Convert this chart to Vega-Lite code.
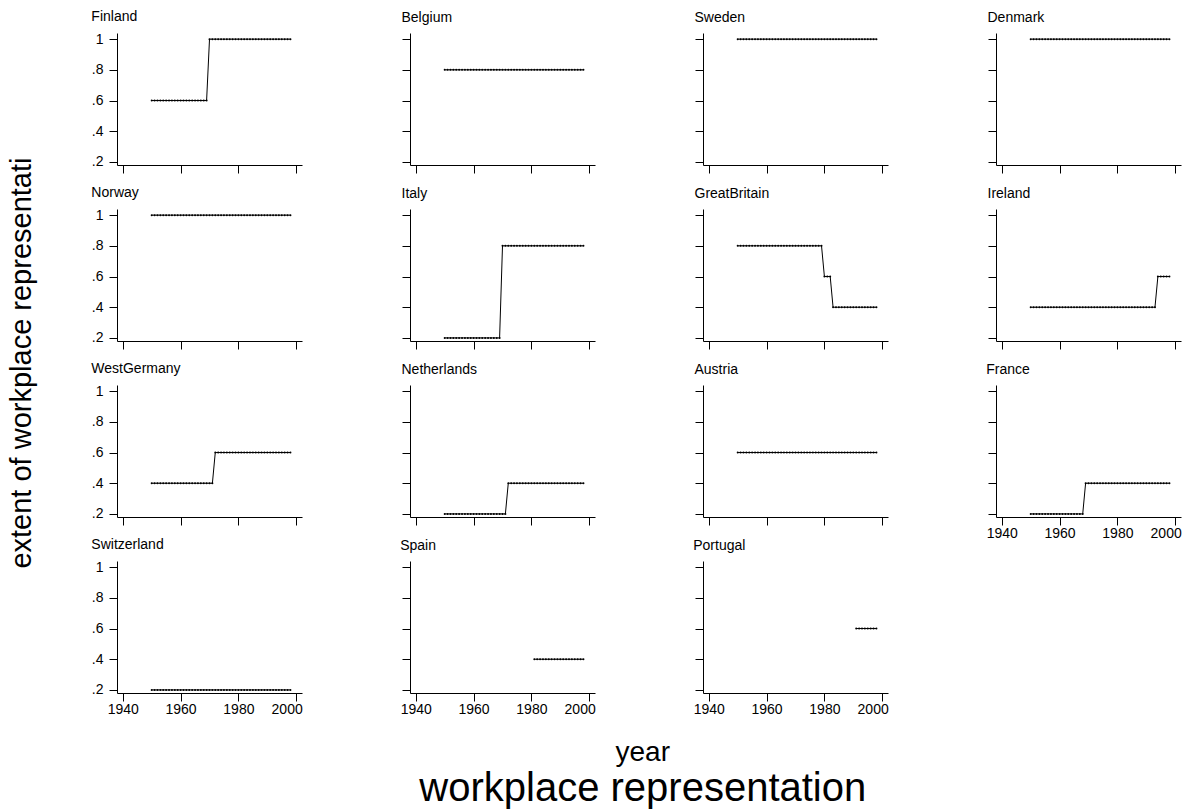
{
  "$schema": "https://vega.github.io/schema/vega-lite/v6.json",
  "padding": {"left": 8, "top": 10, "right": 5, "bottom": 5},
  "title": {"text": "year", "subtitle": "workplace representation", "orient": "bottom", "anchor": "middle", "fontSize": 28, "subtitleFontSize": 40, "fontWeight": "normal", "color": "#000", "subtitleColor": "#000", "font": "Liberation Sans", "subtitleFont": "Liberation Sans", "offset": 23, "subtitlePadding": 2, "dx": 48},
  "data": {"values": [
    {"year":1950,"Finland":0.6,"Belgium":0.8,"Sweden":1,"Denmark":1,"Norway":1,"Italy":0.2,"GreatBritain":0.8,"Ireland":0.4,"WestGermany":0.4,"Netherlands":0.2,"Austria":0.6,"France":0.2,"Switzerland":0.2},
    {"year":1951,"Finland":0.6,"Belgium":0.8,"Sweden":1,"Denmark":1,"Norway":1,"Italy":0.2,"GreatBritain":0.8,"Ireland":0.4,"WestGermany":0.4,"Netherlands":0.2,"Austria":0.6,"France":0.2,"Switzerland":0.2},
    {"year":1952,"Finland":0.6,"Belgium":0.8,"Sweden":1,"Denmark":1,"Norway":1,"Italy":0.2,"GreatBritain":0.8,"Ireland":0.4,"WestGermany":0.4,"Netherlands":0.2,"Austria":0.6,"France":0.2,"Switzerland":0.2},
    {"year":1953,"Finland":0.6,"Belgium":0.8,"Sweden":1,"Denmark":1,"Norway":1,"Italy":0.2,"GreatBritain":0.8,"Ireland":0.4,"WestGermany":0.4,"Netherlands":0.2,"Austria":0.6,"France":0.2,"Switzerland":0.2},
    {"year":1954,"Finland":0.6,"Belgium":0.8,"Sweden":1,"Denmark":1,"Norway":1,"Italy":0.2,"GreatBritain":0.8,"Ireland":0.4,"WestGermany":0.4,"Netherlands":0.2,"Austria":0.6,"France":0.2,"Switzerland":0.2},
    {"year":1955,"Finland":0.6,"Belgium":0.8,"Sweden":1,"Denmark":1,"Norway":1,"Italy":0.2,"GreatBritain":0.8,"Ireland":0.4,"WestGermany":0.4,"Netherlands":0.2,"Austria":0.6,"France":0.2,"Switzerland":0.2},
    {"year":1956,"Finland":0.6,"Belgium":0.8,"Sweden":1,"Denmark":1,"Norway":1,"Italy":0.2,"GreatBritain":0.8,"Ireland":0.4,"WestGermany":0.4,"Netherlands":0.2,"Austria":0.6,"France":0.2,"Switzerland":0.2},
    {"year":1957,"Finland":0.6,"Belgium":0.8,"Sweden":1,"Denmark":1,"Norway":1,"Italy":0.2,"GreatBritain":0.8,"Ireland":0.4,"WestGermany":0.4,"Netherlands":0.2,"Austria":0.6,"France":0.2,"Switzerland":0.2},
    {"year":1958,"Finland":0.6,"Belgium":0.8,"Sweden":1,"Denmark":1,"Norway":1,"Italy":0.2,"GreatBritain":0.8,"Ireland":0.4,"WestGermany":0.4,"Netherlands":0.2,"Austria":0.6,"France":0.2,"Switzerland":0.2},
    {"year":1959,"Finland":0.6,"Belgium":0.8,"Sweden":1,"Denmark":1,"Norway":1,"Italy":0.2,"GreatBritain":0.8,"Ireland":0.4,"WestGermany":0.4,"Netherlands":0.2,"Austria":0.6,"France":0.2,"Switzerland":0.2},
    {"year":1960,"Finland":0.6,"Belgium":0.8,"Sweden":1,"Denmark":1,"Norway":1,"Italy":0.2,"GreatBritain":0.8,"Ireland":0.4,"WestGermany":0.4,"Netherlands":0.2,"Austria":0.6,"France":0.2,"Switzerland":0.2},
    {"year":1961,"Finland":0.6,"Belgium":0.8,"Sweden":1,"Denmark":1,"Norway":1,"Italy":0.2,"GreatBritain":0.8,"Ireland":0.4,"WestGermany":0.4,"Netherlands":0.2,"Austria":0.6,"France":0.2,"Switzerland":0.2},
    {"year":1962,"Finland":0.6,"Belgium":0.8,"Sweden":1,"Denmark":1,"Norway":1,"Italy":0.2,"GreatBritain":0.8,"Ireland":0.4,"WestGermany":0.4,"Netherlands":0.2,"Austria":0.6,"France":0.2,"Switzerland":0.2},
    {"year":1963,"Finland":0.6,"Belgium":0.8,"Sweden":1,"Denmark":1,"Norway":1,"Italy":0.2,"GreatBritain":0.8,"Ireland":0.4,"WestGermany":0.4,"Netherlands":0.2,"Austria":0.6,"France":0.2,"Switzerland":0.2},
    {"year":1964,"Finland":0.6,"Belgium":0.8,"Sweden":1,"Denmark":1,"Norway":1,"Italy":0.2,"GreatBritain":0.8,"Ireland":0.4,"WestGermany":0.4,"Netherlands":0.2,"Austria":0.6,"France":0.2,"Switzerland":0.2},
    {"year":1965,"Finland":0.6,"Belgium":0.8,"Sweden":1,"Denmark":1,"Norway":1,"Italy":0.2,"GreatBritain":0.8,"Ireland":0.4,"WestGermany":0.4,"Netherlands":0.2,"Austria":0.6,"France":0.2,"Switzerland":0.2},
    {"year":1966,"Finland":0.6,"Belgium":0.8,"Sweden":1,"Denmark":1,"Norway":1,"Italy":0.2,"GreatBritain":0.8,"Ireland":0.4,"WestGermany":0.4,"Netherlands":0.2,"Austria":0.6,"France":0.2,"Switzerland":0.2},
    {"year":1967,"Finland":0.6,"Belgium":0.8,"Sweden":1,"Denmark":1,"Norway":1,"Italy":0.2,"GreatBritain":0.8,"Ireland":0.4,"WestGermany":0.4,"Netherlands":0.2,"Austria":0.6,"France":0.2,"Switzerland":0.2},
    {"year":1968,"Finland":0.6,"Belgium":0.8,"Sweden":1,"Denmark":1,"Norway":1,"Italy":0.2,"GreatBritain":0.8,"Ireland":0.4,"WestGermany":0.4,"Netherlands":0.2,"Austria":0.6,"France":0.2,"Switzerland":0.2},
    {"year":1969,"Finland":0.6,"Belgium":0.8,"Sweden":1,"Denmark":1,"Norway":1,"Italy":0.2,"GreatBritain":0.8,"Ireland":0.4,"WestGermany":0.4,"Netherlands":0.2,"Austria":0.6,"France":0.4,"Switzerland":0.2},
    {"year":1970,"Finland":1,"Belgium":0.8,"Sweden":1,"Denmark":1,"Norway":1,"Italy":0.8,"GreatBritain":0.8,"Ireland":0.4,"WestGermany":0.4,"Netherlands":0.2,"Austria":0.6,"France":0.4,"Switzerland":0.2},
    {"year":1971,"Finland":1,"Belgium":0.8,"Sweden":1,"Denmark":1,"Norway":1,"Italy":0.8,"GreatBritain":0.8,"Ireland":0.4,"WestGermany":0.4,"Netherlands":0.2,"Austria":0.6,"France":0.4,"Switzerland":0.2},
    {"year":1972,"Finland":1,"Belgium":0.8,"Sweden":1,"Denmark":1,"Norway":1,"Italy":0.8,"GreatBritain":0.8,"Ireland":0.4,"WestGermany":0.6,"Netherlands":0.4,"Austria":0.6,"France":0.4,"Switzerland":0.2},
    {"year":1973,"Finland":1,"Belgium":0.8,"Sweden":1,"Denmark":1,"Norway":1,"Italy":0.8,"GreatBritain":0.8,"Ireland":0.4,"WestGermany":0.6,"Netherlands":0.4,"Austria":0.6,"France":0.4,"Switzerland":0.2},
    {"year":1974,"Finland":1,"Belgium":0.8,"Sweden":1,"Denmark":1,"Norway":1,"Italy":0.8,"GreatBritain":0.8,"Ireland":0.4,"WestGermany":0.6,"Netherlands":0.4,"Austria":0.6,"France":0.4,"Switzerland":0.2},
    {"year":1975,"Finland":1,"Belgium":0.8,"Sweden":1,"Denmark":1,"Norway":1,"Italy":0.8,"GreatBritain":0.8,"Ireland":0.4,"WestGermany":0.6,"Netherlands":0.4,"Austria":0.6,"France":0.4,"Switzerland":0.2},
    {"year":1976,"Finland":1,"Belgium":0.8,"Sweden":1,"Denmark":1,"Norway":1,"Italy":0.8,"GreatBritain":0.8,"Ireland":0.4,"WestGermany":0.6,"Netherlands":0.4,"Austria":0.6,"France":0.4,"Switzerland":0.2},
    {"year":1977,"Finland":1,"Belgium":0.8,"Sweden":1,"Denmark":1,"Norway":1,"Italy":0.8,"GreatBritain":0.8,"Ireland":0.4,"WestGermany":0.6,"Netherlands":0.4,"Austria":0.6,"France":0.4,"Switzerland":0.2},
    {"year":1978,"Finland":1,"Belgium":0.8,"Sweden":1,"Denmark":1,"Norway":1,"Italy":0.8,"GreatBritain":0.8,"Ireland":0.4,"WestGermany":0.6,"Netherlands":0.4,"Austria":0.6,"France":0.4,"Switzerland":0.2},
    {"year":1979,"Finland":1,"Belgium":0.8,"Sweden":1,"Denmark":1,"Norway":1,"Italy":0.8,"GreatBritain":0.8,"Ireland":0.4,"WestGermany":0.6,"Netherlands":0.4,"Austria":0.6,"France":0.4,"Switzerland":0.2},
    {"year":1980,"Finland":1,"Belgium":0.8,"Sweden":1,"Denmark":1,"Norway":1,"Italy":0.8,"GreatBritain":0.6,"Ireland":0.4,"WestGermany":0.6,"Netherlands":0.4,"Austria":0.6,"France":0.4,"Switzerland":0.2},
    {"year":1981,"Finland":1,"Belgium":0.8,"Sweden":1,"Denmark":1,"Norway":1,"Italy":0.8,"GreatBritain":0.6,"Ireland":0.4,"WestGermany":0.6,"Netherlands":0.4,"Austria":0.6,"France":0.4,"Switzerland":0.2,"Spain":0.4},
    {"year":1982,"Finland":1,"Belgium":0.8,"Sweden":1,"Denmark":1,"Norway":1,"Italy":0.8,"GreatBritain":0.6,"Ireland":0.4,"WestGermany":0.6,"Netherlands":0.4,"Austria":0.6,"France":0.4,"Switzerland":0.2,"Spain":0.4},
    {"year":1983,"Finland":1,"Belgium":0.8,"Sweden":1,"Denmark":1,"Norway":1,"Italy":0.8,"GreatBritain":0.4,"Ireland":0.4,"WestGermany":0.6,"Netherlands":0.4,"Austria":0.6,"France":0.4,"Switzerland":0.2,"Spain":0.4},
    {"year":1984,"Finland":1,"Belgium":0.8,"Sweden":1,"Denmark":1,"Norway":1,"Italy":0.8,"GreatBritain":0.4,"Ireland":0.4,"WestGermany":0.6,"Netherlands":0.4,"Austria":0.6,"France":0.4,"Switzerland":0.2,"Spain":0.4},
    {"year":1985,"Finland":1,"Belgium":0.8,"Sweden":1,"Denmark":1,"Norway":1,"Italy":0.8,"GreatBritain":0.4,"Ireland":0.4,"WestGermany":0.6,"Netherlands":0.4,"Austria":0.6,"France":0.4,"Switzerland":0.2,"Spain":0.4},
    {"year":1986,"Finland":1,"Belgium":0.8,"Sweden":1,"Denmark":1,"Norway":1,"Italy":0.8,"GreatBritain":0.4,"Ireland":0.4,"WestGermany":0.6,"Netherlands":0.4,"Austria":0.6,"France":0.4,"Switzerland":0.2,"Spain":0.4},
    {"year":1987,"Finland":1,"Belgium":0.8,"Sweden":1,"Denmark":1,"Norway":1,"Italy":0.8,"GreatBritain":0.4,"Ireland":0.4,"WestGermany":0.6,"Netherlands":0.4,"Austria":0.6,"France":0.4,"Switzerland":0.2,"Spain":0.4},
    {"year":1988,"Finland":1,"Belgium":0.8,"Sweden":1,"Denmark":1,"Norway":1,"Italy":0.8,"GreatBritain":0.4,"Ireland":0.4,"WestGermany":0.6,"Netherlands":0.4,"Austria":0.6,"France":0.4,"Switzerland":0.2,"Spain":0.4},
    {"year":1989,"Finland":1,"Belgium":0.8,"Sweden":1,"Denmark":1,"Norway":1,"Italy":0.8,"GreatBritain":0.4,"Ireland":0.4,"WestGermany":0.6,"Netherlands":0.4,"Austria":0.6,"France":0.4,"Switzerland":0.2,"Spain":0.4},
    {"year":1990,"Finland":1,"Belgium":0.8,"Sweden":1,"Denmark":1,"Norway":1,"Italy":0.8,"GreatBritain":0.4,"Ireland":0.4,"WestGermany":0.6,"Netherlands":0.4,"Austria":0.6,"France":0.4,"Switzerland":0.2,"Spain":0.4},
    {"year":1991,"Finland":1,"Belgium":0.8,"Sweden":1,"Denmark":1,"Norway":1,"Italy":0.8,"GreatBritain":0.4,"Ireland":0.4,"WestGermany":0.6,"Netherlands":0.4,"Austria":0.6,"France":0.4,"Switzerland":0.2,"Spain":0.4,"Portugal":0.6},
    {"year":1992,"Finland":1,"Belgium":0.8,"Sweden":1,"Denmark":1,"Norway":1,"Italy":0.8,"GreatBritain":0.4,"Ireland":0.4,"WestGermany":0.6,"Netherlands":0.4,"Austria":0.6,"France":0.4,"Switzerland":0.2,"Spain":0.4,"Portugal":0.6},
    {"year":1993,"Finland":1,"Belgium":0.8,"Sweden":1,"Denmark":1,"Norway":1,"Italy":0.8,"GreatBritain":0.4,"Ireland":0.4,"WestGermany":0.6,"Netherlands":0.4,"Austria":0.6,"France":0.4,"Switzerland":0.2,"Spain":0.4,"Portugal":0.6},
    {"year":1994,"Finland":1,"Belgium":0.8,"Sweden":1,"Denmark":1,"Norway":1,"Italy":0.8,"GreatBritain":0.4,"Ireland":0.6,"WestGermany":0.6,"Netherlands":0.4,"Austria":0.6,"France":0.4,"Switzerland":0.2,"Spain":0.4,"Portugal":0.6},
    {"year":1995,"Finland":1,"Belgium":0.8,"Sweden":1,"Denmark":1,"Norway":1,"Italy":0.8,"GreatBritain":0.4,"Ireland":0.6,"WestGermany":0.6,"Netherlands":0.4,"Austria":0.6,"France":0.4,"Switzerland":0.2,"Spain":0.4,"Portugal":0.6},
    {"year":1996,"Finland":1,"Belgium":0.8,"Sweden":1,"Denmark":1,"Norway":1,"Italy":0.8,"GreatBritain":0.4,"Ireland":0.6,"WestGermany":0.6,"Netherlands":0.4,"Austria":0.6,"France":0.4,"Switzerland":0.2,"Spain":0.4,"Portugal":0.6},
    {"year":1997,"Finland":1,"Belgium":0.8,"Sweden":1,"Denmark":1,"Norway":1,"Italy":0.8,"GreatBritain":0.4,"Ireland":0.6,"WestGermany":0.6,"Netherlands":0.4,"Austria":0.6,"France":0.4,"Switzerland":0.2,"Spain":0.4,"Portugal":0.6},
    {"year":1998,"Finland":1,"Belgium":0.8,"Sweden":1,"Denmark":1,"Norway":1,"Italy":0.8,"GreatBritain":0.4,"Ireland":0.6,"WestGermany":0.6,"Netherlands":0.4,"Austria":0.6,"France":0.4,"Switzerland":0.2,"Spain":0.4,"Portugal":0.6}
  ]},
  "vconcat": [
    {
      "title": {"text": "extent of workplace representati", "orient": "left", "anchor": "middle", "fontSize": 29, "fontWeight": "normal", "color": "#000", "font": "Liberation Sans", "offset": 54},
      "columns": 4,
      "spacing": {"row": 44, "column": 108},
      "bounds": "flush",
      "concat": [
        {"title": "Finland", "width": 185, "height": 132,
         "mark": {"type": "line", "color": "#000", "strokeWidth": 1, "point": {"filled": true, "size": 4, "color": "#000"}},
         "encoding": {
           "x": {"field": "year", "type": "quantitative", "scale": {"domain": [1938, 2002], "nice": false, "zero": false}, "axis": {"title": null, "values": [1940, 1960, 1980, 2000], "labels": false}},
           "y": {"field": "Finland", "type": "quantitative", "scale": {"domain": [0.18, 1.04], "nice": false, "zero": false}, "axis": {"title": null, "values": [0.2, 0.4, 0.6, 0.8, 1], "labelExpr": "datum.value == 1 ? '1' : '.' + round(datum.value * 10)"}}
         }},
        {"title": "Belgium", "width": 185, "height": 132,
         "mark": {"type": "line", "color": "#000", "strokeWidth": 1, "point": {"filled": true, "size": 4, "color": "#000"}},
         "encoding": {
           "x": {"field": "year", "type": "quantitative", "scale": {"domain": [1938, 2002], "nice": false, "zero": false}, "axis": {"title": null, "values": [1940, 1960, 1980, 2000], "labels": false}},
           "y": {"field": "Belgium", "type": "quantitative", "scale": {"domain": [0.18, 1.04], "nice": false, "zero": false}, "axis": {"title": null, "values": [0.2, 0.4, 0.6, 0.8, 1], "labels": false}}
         }},
        {"title": "Sweden", "width": 185, "height": 132,
         "mark": {"type": "line", "color": "#000", "strokeWidth": 1, "point": {"filled": true, "size": 4, "color": "#000"}},
         "encoding": {
           "x": {"field": "year", "type": "quantitative", "scale": {"domain": [1938, 2002], "nice": false, "zero": false}, "axis": {"title": null, "values": [1940, 1960, 1980, 2000], "labels": false}},
           "y": {"field": "Sweden", "type": "quantitative", "scale": {"domain": [0.18, 1.04], "nice": false, "zero": false}, "axis": {"title": null, "values": [0.2, 0.4, 0.6, 0.8, 1], "labels": false}}
         }},
        {"title": "Denmark", "width": 185, "height": 132,
         "mark": {"type": "line", "color": "#000", "strokeWidth": 1, "point": {"filled": true, "size": 4, "color": "#000"}},
         "encoding": {
           "x": {"field": "year", "type": "quantitative", "scale": {"domain": [1938, 2002], "nice": false, "zero": false}, "axis": {"title": null, "values": [1940, 1960, 1980, 2000], "labels": false}},
           "y": {"field": "Denmark", "type": "quantitative", "scale": {"domain": [0.18, 1.04], "nice": false, "zero": false}, "axis": {"title": null, "values": [0.2, 0.4, 0.6, 0.8, 1], "labels": false}}
         }},
        {"title": "Norway", "width": 185, "height": 132,
         "mark": {"type": "line", "color": "#000", "strokeWidth": 1, "point": {"filled": true, "size": 4, "color": "#000"}},
         "encoding": {
           "x": {"field": "year", "type": "quantitative", "scale": {"domain": [1938, 2002], "nice": false, "zero": false}, "axis": {"title": null, "values": [1940, 1960, 1980, 2000], "labels": false}},
           "y": {"field": "Norway", "type": "quantitative", "scale": {"domain": [0.18, 1.04], "nice": false, "zero": false}, "axis": {"title": null, "values": [0.2, 0.4, 0.6, 0.8, 1], "labelExpr": "datum.value == 1 ? '1' : '.' + round(datum.value * 10)"}}
         }},
        {"title": "Italy", "width": 185, "height": 132,
         "mark": {"type": "line", "color": "#000", "strokeWidth": 1, "point": {"filled": true, "size": 4, "color": "#000"}},
         "encoding": {
           "x": {"field": "year", "type": "quantitative", "scale": {"domain": [1938, 2002], "nice": false, "zero": false}, "axis": {"title": null, "values": [1940, 1960, 1980, 2000], "labels": false}},
           "y": {"field": "Italy", "type": "quantitative", "scale": {"domain": [0.18, 1.04], "nice": false, "zero": false}, "axis": {"title": null, "values": [0.2, 0.4, 0.6, 0.8, 1], "labels": false}}
         }},
        {"title": "GreatBritain", "width": 185, "height": 132,
         "mark": {"type": "line", "color": "#000", "strokeWidth": 1, "point": {"filled": true, "size": 4, "color": "#000"}},
         "encoding": {
           "x": {"field": "year", "type": "quantitative", "scale": {"domain": [1938, 2002], "nice": false, "zero": false}, "axis": {"title": null, "values": [1940, 1960, 1980, 2000], "labels": false}},
           "y": {"field": "GreatBritain", "type": "quantitative", "scale": {"domain": [0.18, 1.04], "nice": false, "zero": false}, "axis": {"title": null, "values": [0.2, 0.4, 0.6, 0.8, 1], "labels": false}}
         }},
        {"title": "Ireland", "width": 185, "height": 132,
         "mark": {"type": "line", "color": "#000", "strokeWidth": 1, "point": {"filled": true, "size": 4, "color": "#000"}},
         "encoding": {
           "x": {"field": "year", "type": "quantitative", "scale": {"domain": [1938, 2002], "nice": false, "zero": false}, "axis": {"title": null, "values": [1940, 1960, 1980, 2000], "labels": false}},
           "y": {"field": "Ireland", "type": "quantitative", "scale": {"domain": [0.18, 1.04], "nice": false, "zero": false}, "axis": {"title": null, "values": [0.2, 0.4, 0.6, 0.8, 1], "labels": false}}
         }},
        {"title": "WestGermany", "width": 185, "height": 132,
         "mark": {"type": "line", "color": "#000", "strokeWidth": 1, "point": {"filled": true, "size": 4, "color": "#000"}},
         "encoding": {
           "x": {"field": "year", "type": "quantitative", "scale": {"domain": [1938, 2002], "nice": false, "zero": false}, "axis": {"title": null, "values": [1940, 1960, 1980, 2000], "labels": false}},
           "y": {"field": "WestGermany", "type": "quantitative", "scale": {"domain": [0.18, 1.04], "nice": false, "zero": false}, "axis": {"title": null, "values": [0.2, 0.4, 0.6, 0.8, 1], "labelExpr": "datum.value == 1 ? '1' : '.' + round(datum.value * 10)"}}
         }},
        {"title": "Netherlands", "width": 185, "height": 132,
         "mark": {"type": "line", "color": "#000", "strokeWidth": 1, "point": {"filled": true, "size": 4, "color": "#000"}},
         "encoding": {
           "x": {"field": "year", "type": "quantitative", "scale": {"domain": [1938, 2002], "nice": false, "zero": false}, "axis": {"title": null, "values": [1940, 1960, 1980, 2000], "labels": false}},
           "y": {"field": "Netherlands", "type": "quantitative", "scale": {"domain": [0.18, 1.04], "nice": false, "zero": false}, "axis": {"title": null, "values": [0.2, 0.4, 0.6, 0.8, 1], "labels": false}}
         }},
        {"title": "Austria", "width": 185, "height": 132,
         "mark": {"type": "line", "color": "#000", "strokeWidth": 1, "point": {"filled": true, "size": 4, "color": "#000"}},
         "encoding": {
           "x": {"field": "year", "type": "quantitative", "scale": {"domain": [1938, 2002], "nice": false, "zero": false}, "axis": {"title": null, "values": [1940, 1960, 1980, 2000], "labels": false}},
           "y": {"field": "Austria", "type": "quantitative", "scale": {"domain": [0.18, 1.04], "nice": false, "zero": false}, "axis": {"title": null, "values": [0.2, 0.4, 0.6, 0.8, 1], "labels": false}}
         }},
        {"title": "France", "width": 185, "height": 132,
         "mark": {"type": "line", "color": "#000", "strokeWidth": 1, "point": {"filled": true, "size": 4, "color": "#000"}},
         "encoding": {
           "x": {"field": "year", "type": "quantitative", "scale": {"domain": [1938, 2002], "nice": false, "zero": false}, "axis": {"title": null, "values": [1940, 1960, 1980, 2000], "format": "d", "labelAlign": {"condition": {"test": "datum.value === 2000", "value": "right"}, "value": "center"}, "labelOffset": {"condition": {"test": "datum.value === 2000", "value": 6}, "value": 0}}},
           "y": {"field": "France", "type": "quantitative", "scale": {"domain": [0.18, 1.04], "nice": false, "zero": false}, "axis": {"title": null, "values": [0.2, 0.4, 0.6, 0.8, 1], "labels": false}}
         }},
        {"title": "Switzerland", "width": 185, "height": 132,
         "mark": {"type": "line", "color": "#000", "strokeWidth": 1, "point": {"filled": true, "size": 4, "color": "#000"}},
         "encoding": {
           "x": {"field": "year", "type": "quantitative", "scale": {"domain": [1938, 2002], "nice": false, "zero": false}, "axis": {"title": null, "values": [1940, 1960, 1980, 2000], "format": "d", "labelAlign": {"condition": {"test": "datum.value === 2000", "value": "right"}, "value": "center"}, "labelOffset": {"condition": {"test": "datum.value === 2000", "value": 6}, "value": 0}}},
           "y": {"field": "Switzerland", "type": "quantitative", "scale": {"domain": [0.18, 1.04], "nice": false, "zero": false}, "axis": {"title": null, "values": [0.2, 0.4, 0.6, 0.8, 1], "labelExpr": "datum.value == 1 ? '1' : '.' + round(datum.value * 10)"}}
         }},
        {"title": "Spain", "width": 185, "height": 132,
         "mark": {"type": "line", "color": "#000", "strokeWidth": 1, "point": {"filled": true, "size": 4, "color": "#000"}},
         "encoding": {
           "x": {"field": "year", "type": "quantitative", "scale": {"domain": [1938, 2002], "nice": false, "zero": false}, "axis": {"title": null, "values": [1940, 1960, 1980, 2000], "format": "d", "labelAlign": {"condition": {"test": "datum.value === 2000", "value": "right"}, "value": "center"}, "labelOffset": {"condition": {"test": "datum.value === 2000", "value": 6}, "value": 0}}},
           "y": {"field": "Spain", "type": "quantitative", "scale": {"domain": [0.18, 1.04], "nice": false, "zero": false}, "axis": {"title": null, "values": [0.2, 0.4, 0.6, 0.8, 1], "labels": false}}
         }},
        {"title": "Portugal", "width": 185, "height": 132,
         "mark": {"type": "line", "color": "#000", "strokeWidth": 1, "point": {"filled": true, "size": 4, "color": "#000"}},
         "encoding": {
           "x": {"field": "year", "type": "quantitative", "scale": {"domain": [1938, 2002], "nice": false, "zero": false}, "axis": {"title": null, "values": [1940, 1960, 1980, 2000], "format": "d", "labelAlign": {"condition": {"test": "datum.value === 2000", "value": "right"}, "value": "center"}, "labelOffset": {"condition": {"test": "datum.value === 2000", "value": 6}, "value": 0}}},
           "y": {"field": "Portugal", "type": "quantitative", "scale": {"domain": [0.18, 1.04], "nice": false, "zero": false}, "axis": {"title": null, "values": [0.2, 0.4, 0.6, 0.8, 1], "labels": false}}
         }}
      ]
    }
  ],
  "config": {
    "font": "Liberation Sans",
    "background": "#ffffff",
    "view": {"stroke": null},
    "axis": {"grid": false, "domainColor": "#000", "tickColor": "#000", "tickSize": 8, "domainWidth": 1, "tickWidth": 1, "labelFontSize": 14, "labelColor": "#000", "labelFont": "Liberation Sans", "labelPadding": 1},
    "axisY": {"labelPadding": 6},
    "title": {"anchor": "start", "fontSize": 14, "fontWeight": "normal", "color": "#000", "font": "Liberation Sans", "offset": 8}
  }
}
